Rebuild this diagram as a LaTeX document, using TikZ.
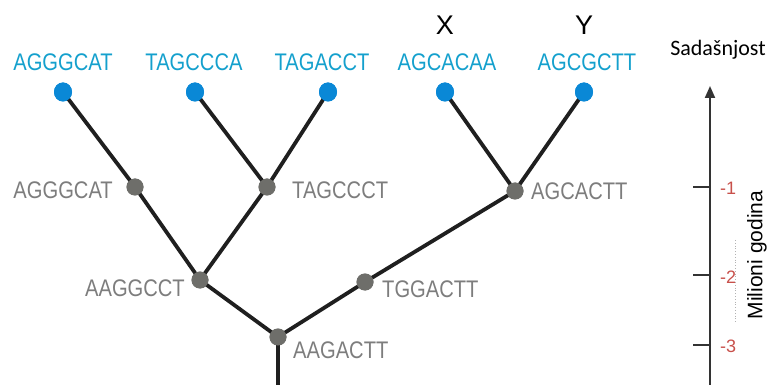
\documentclass[tikz,border=0pt]{standalone}
\usepackage{fontspec}
\setmainfont{Liberation Sans}
\newfontfamily\calfont{Carlito}
\usetikzlibrary{arrows.meta,shapes.geometric}
\definecolor{leafblue}{RGB}{10,136,214}
\definecolor{seqblue}{RGB}{20,160,205}
\definecolor{nodegray}{RGB}{110,110,106}
\definecolor{labgray}{RGB}{125,125,125}
\definecolor{tickred}{RGB}{200,80,75}
\newcommand{\seqtxt}[1]{\scalebox{0.84}[1]{#1}}
\begin{document}
\begin{tikzpicture}[x=1pt,y=-1pt,
  leaf/.style={ellipse,fill=leafblue,minimum width=18pt,minimum height=19pt,inner sep=0pt},
  inner/.style={circle,fill=nodegray,minimum size=17pt,inner sep=0pt},
  seqlab/.style={text=seqblue,font=\fontsize{24}{26}\selectfont,inner sep=0pt},
  graylab/.style={text=labgray,font=\fontsize{24}{26}\selectfont,inner sep=0pt},
  branch/.style={line width=3.8pt,black!88},
  ticklab/.style={text=tickred,font=\fontsize{18}{20}\selectfont,inner sep=0pt,anchor=west},
  axisline/.style={line width=2pt,black!80},
  tickmark/.style={line width=2.6pt,black!80}
]
\useasboundingbox (0,0) rectangle (772,385);
% leaf nodes
\node[leaf] (L1) at (63,92) {};
\node[leaf] (L2) at (195,92) {};
\node[leaf] (L3) at (328,92) {};
\node[leaf] (L4) at (445,92) {};
\node[leaf] (L5) at (584,92) {};
% inner nodes
\node[inner] (n1) at (135,187) {};
\node[inner] (n2) at (267,187) {};
\node[inner] (n3) at (515,191) {};
\node[inner] (n4) at (200,280) {};
\node[inner] (n6) at (365,282) {};
\node[inner] (n5) at (278,337) {};
\coordinate (rootend) at (278,390);
% branches
\draw[branch] (L1.center) -- (n1.center) -- (n4.center);
\draw[branch] (L2.center) -- (n2.center);
\draw[branch] (L3.center) -- (n2.center);
\draw[branch] (n2.center) -- (n4.center);
\draw[branch] (n4.center) -- (n5.center);
\draw[branch] (n5.center) -- (n6.center) -- (n3.center);
\draw[branch] (L4.center) -- (n3.center);
\draw[branch] (L5.center) -- (n3.center);
\draw[branch] (n5.center) -- (rootend);
% redraw node dots on top of the branches
\foreach \n in {L1,L2,L3,L4,L5}{\fill[leafblue] (\n) ellipse (9pt and 9.5pt);}
\foreach \n in {n1,n2,n3,n4,n5,n6}{\fill[nodegray] (\n) circle (8.5pt);}
% leaf labels
\node[seqlab] (t1) at (63,62) {\seqtxt{AGGGCAT}};
\node[seqlab] (t2) at (194,62) {\seqtxt{TAGCCCA}};
\node[seqlab] (t3) at (322,62) {\seqtxt{TAGACCT}};
\node[seqlab] (t4) at (447,62) {\seqtxt{AGCACAA}};
\node[seqlab] (t5) at (587,62) {\seqtxt{AGCGCTT}};
\node[font=\fontsize{27}{29}\selectfont,inner sep=0pt] (X) at (445,25) {X};
\node[font=\fontsize{27}{29}\selectfont,inner sep=0pt] (Y) at (584,25) {Y};
% inner labels
\node[graylab,anchor=east] (g1) at (113,190) {\seqtxt{AGGGCAT}};
\node[graylab,anchor=west] (g2) at (292,190) {\seqtxt{TAGCCCT}};
\node[graylab,anchor=west] (g3) at (531,191) {\seqtxt{AGCACTT}};
\node[graylab,anchor=east] (g4) at (185,288) {\seqtxt{AAGGCCT}};
\node[graylab,anchor=west] (g6) at (382,289) {\seqtxt{TGGACTT}};
\node[graylab,anchor=west] (g5) at (293,350) {\seqtxt{AAGACTT}};
% time axis
\coordinate (axbot) at (710,390);
\coordinate (axtop) at (710,86);
\draw[axisline,-{Triangle[length=12pt,width=10pt]}] (axbot) -- (axtop);
\coordinate (k1) at (710,187);
\coordinate (k2) at (710,275);
\coordinate (k3) at (710,345);
\draw[tickmark] (k1) -- ++(-17,0);
\draw[tickmark] (k2) -- ++(-17,0);
\draw[tickmark] (k3) -- ++(-17,0);
\node[ticklab] (m1) at (720,188) {-1};
\node[ticklab] (m2) at (720,277) {-2};
\node[ticklab] (m3) at (720,346) {-3};
\draw[black!30,line width=0.8pt,dotted] (735,240) -- (735,322);
\node[rotate=90,font=\fontsize{21}{23}\selectfont,inner sep=0pt] (ax) at (757,255) {Milioni godina};
\node[font=\calfont\fontsize{22}{24}\selectfont,inner sep=0pt] (sad) at (718,50) {Sadašnjost};
\end{tikzpicture}
\end{document}
